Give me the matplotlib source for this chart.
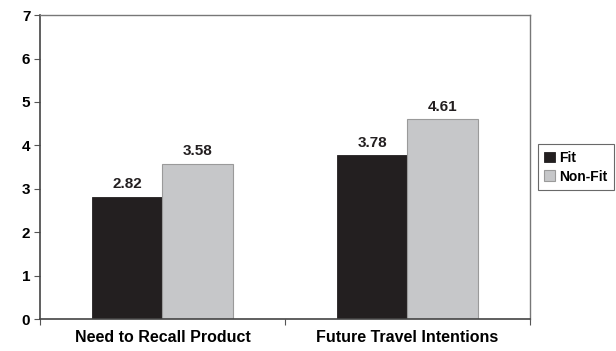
import numpy as np
from matplotlib import pyplot as plt

categories = ['Need to Recall Product', 'Future Travel Intentions']
fit = [2.82, 3.78]
non_fit = [3.58, 4.61]
yticks = [0, 1, 2, 3, 4, 5, 6, 7]

plt.rcParams['font.family'] = ['Liberation Sans', 'DejaVu Sans']
plt.rcParams['font.weight'] = 'bold'

fig = plt.figure(figsize=(6.16, 3.51), dpi=100)
ax = fig.add_axes([0.065, 0.091, 0.795, 0.866])

x = np.arange(len(categories))
w = 0.287
b1 = ax.bar(x - w / 2, fit, w, color='#231f20', edgecolor='#231f20', linewidth=0.6, label='Fit')
b2 = ax.bar(x + w / 2, non_fit, w, color='#c6c7c9', edgecolor='#9a9a9a', linewidth=0.8, label='Non-Fit')

for bars, vals in [(b1, fit), (b2, non_fit)]:
    for r, v in zip(bars, vals):
        ax.text(r.get_x() + r.get_width() / 2, v + 0.12, '%.2f' % v,
                ha='center', va='bottom', fontsize=11, fontweight='bold', color='#231f20')

ax.set_xlim(-0.5, 1.5)
ax.set_ylim(0, 7)
ax.set_yticks(yticks)
ax.set_yticklabels([str(t) for t in yticks], fontsize=11, fontweight='bold')

# category labels between boundary ticks, like Excel
ax.set_xticks([-0.5, 0.5, 1.5])
ax.set_xticklabels([])
ax.set_xticks(x, minor=True)
ax.set_xticklabels(categories, minor=True, fontsize=11.5, fontweight='bold')
ax.tick_params(axis='x', which='minor', length=0, pad=8)
ax.tick_params(axis='x', which='major', length=4, color='#555555', direction='out')
ax.tick_params(axis='y', length=4, color='#555555', direction='out', pad=3)

for s in ['left', 'bottom']:
    ax.spines[s].set_color('#444444')
    ax.spines[s].set_linewidth(1.2)
for s in ['top', 'right']:
    ax.spines[s].set_color('#777777')
    ax.spines[s].set_linewidth(1.0)

leg = ax.legend(loc='center left', bbox_to_anchor=(1.016, 0.5), fontsize=10,
                frameon=True, fancybox=False, edgecolor='#444444',
                handlelength=0.8, handleheight=0.8, handletextpad=0.3,
                borderpad=0.45, labelspacing=0.35, borderaxespad=0)
leg.get_frame().set_linewidth(0.8)
for t in leg.get_texts():
    t.set_fontweight('bold')

plt.savefig('out.png', dpi=100)
